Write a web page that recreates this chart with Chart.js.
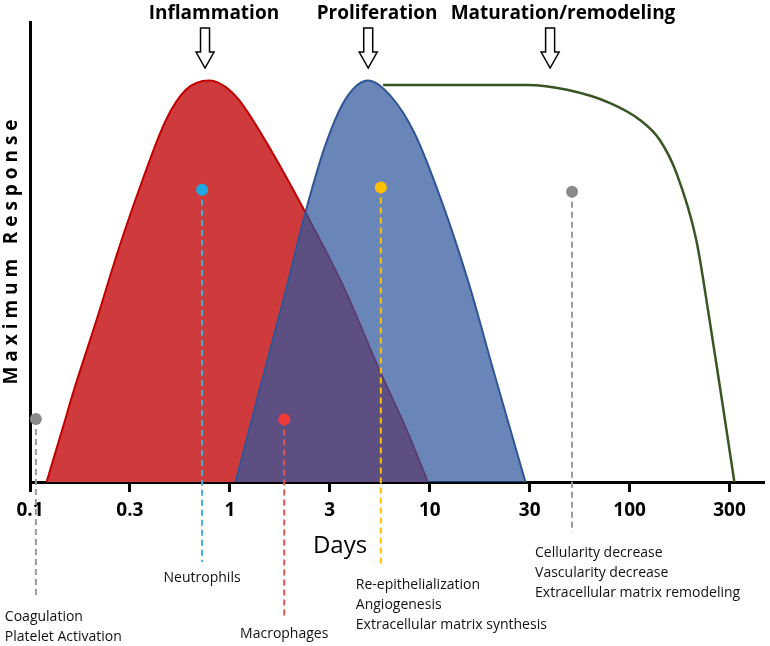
<!DOCTYPE html>
<html>
<head>
<meta charset="utf-8">
<script src="https://cdn.jsdelivr.net/npm/chart.js@4.4.0/dist/chart.umd.min.js"></script>
<style>
  body { margin: 0; background: #fff; }
  canvas { display: block; }
</style>
</head>
<body>
<canvas id="woundChart" width="770" height="646"></canvas>
<script>
// x axis ticks (half decades)
const tickValues = [0.1, 0.316, 1, 3.16, 10, 31.6, 100, 316];
const tickLabels = ["0.1", "0.3", "1", "3", "10", "30", "100", "300"];

// inflammation curve
const redDays = [0.121, 0.1465, 0.164, 0.215, 0.28, 0.366, 0.479, 0.602, 0.787, 1.067, 1.45, 2.38, 3.77, 5.51, 7.78, 9.77];
const redResp = [0, 0.138, 0.221, 0.403, 0.586, 0.753, 0.902, 0.977, 1.0, 0.962, 0.864, 0.673, 0.478, 0.287, 0.122, 0];

// proliferation curve
const blueDays = [1.067, 1.45, 1.89, 2.38, 2.99, 3.77, 4.91, 6.41, 8.39, 11.4, 15.5, 21.0, 30.1];
const blueResp = [0, 0.254, 0.47, 0.669, 0.836, 0.952, 1.0, 0.96, 0.869, 0.703, 0.503, 0.271, 0];

// maturation / remodeling curve
const greenDays = [5.84, 30.7, 48.6, 79.8, 112.5, 141.5, 171.3, 215.4, 251, 292.6, 334];
const greenResp = [0.989, 0.989, 0.977, 0.944, 0.902, 0.852, 0.77, 0.603, 0.404, 0.189, 0];

// phases at the top
const phaseNames = ["Inflammation", "Proliferation", "Maturation/remodeling"];
const phaseArrowDays = [0.751, 4.92, 40.0];
const phaseLabelDays = [0.832, 5.45, 46.4];

// events (dot + dashed line + text)
const eventDays = [0.107, 0.726, 1.87, 5.69, 51.5];
const eventLevels = [0.157, 0.728, 0.156, 0.734, 0.723];
const eventLabels = [
  ["Coagulation", "Platelet Activation"],
  ["Neutrophils"],
  ["Macrophages"],
  ["Re-epithelialization", "Angiogenesis", "Extracellular matrix synthesis"],
  ["Cellularity decrease", "Vascularity decrease", "Extracellular matrix remodeling"]
];
const eventDotColors = ["#8a8a8a", "#1ea7e1", "#f03a3a", "#ffc000", "#8a8a8a"];
const eventLineColors = ["#9a9a9a", "#3fb0d6", "#e05555", "#ffc000", "#9a9a9a"];

// text placement below the axis (pixels)
const eventTextLayout = [
  { lineEnd: 598, dx: -31, y: 617, align: "left" },
  { lineEnd: 562, dx: 0, y: 578, align: "center" },
  { lineEnd: 616, dx: 0, y: 634, align: "center" },
  { lineEnd: 567, dx: -25, y: 585, align: "left" },
  { lineEnd: 532, dx: -37, y: 553, align: "left" }
];

const pts = (xs, ys) => xs.map((x, i) => ({ x: x, y: ys[i] }));

Chart.defaults.font.family = "'Open Sans', sans-serif";
Chart.defaults.color = "#000";

const decorations = {
  id: "decorations",
  beforeDatasetDraw(chart, args) {
    if (args.index !== 0) return;
    const ctx = chart.ctx;
    const x = chart.scales.x, y = chart.scales.y;
    ctx.save();
    ctx.lineWidth = 2;
    ctx.setLineDash([6, 4]);
    eventDays.forEach((d, i) => {
      const px = x.getPixelForValue(d);
      ctx.strokeStyle = eventLineColors[i];
      ctx.beginPath();
      ctx.moveTo(px, y.getPixelForValue(eventLevels[i]));
      ctx.lineTo(px, eventTextLayout[i].lineEnd);
      ctx.stroke();
    });
    ctx.restore();
  },
  afterDraw(chart) {
    const ctx = chart.ctx;
    const x = chart.scales.x;
    ctx.save();

    // event labels
    ctx.fillStyle = "#111";
    ctx.font = "14px 'Open Sans'";
    ctx.textBaseline = "middle";
    eventLabels.forEach((lines, i) => {
      const l = eventTextLayout[i];
      const px = x.getPixelForValue(eventDays[i]) + l.dx;
      ctx.textAlign = l.align;
      lines.forEach((t, j) => ctx.fillText(t, px, l.y + j * 20));
    });

    // phase titles and hollow arrows
    ctx.fillStyle = "#000";
    ctx.font = "bold 19px 'Open Sans'";
    ctx.textAlign = "center";
    ctx.textBaseline = "alphabetic";
    phaseNames.forEach((name, i) => {
      ctx.fillText(name, x.getPixelForValue(phaseLabelDays[i]), 19);
      const ax = x.getPixelForValue(phaseArrowDays[i]);
      ctx.beginPath();
      ctx.moveTo(ax - 4.5, 28);
      ctx.lineTo(ax + 4.5, 28);
      ctx.lineTo(ax + 4.5, 52);
      ctx.lineTo(ax + 9, 52);
      ctx.lineTo(ax, 68);
      ctx.lineTo(ax - 9, 52);
      ctx.lineTo(ax - 4.5, 52);
      ctx.closePath();
      ctx.fillStyle = "#fff";
      ctx.fill();
      ctx.lineWidth = 1.5;
      ctx.strokeStyle = "#000";
      ctx.stroke();
      ctx.fillStyle = "#000";
    });

    // axis titles
    ctx.font = "24px 'Open Sans'";
    ctx.textBaseline = "middle";
    ctx.fillText("Days", 340, 546);

    ctx.translate(17, 252);
    ctx.rotate(-Math.PI / 2);
    ctx.font = "bold 19px 'Open Sans'";
    ctx.textAlign = "left";
    ctx.textBaseline = "alphabetic";
    const title = "Maximum Response";
    const span = 265;
    const w0 = ctx.measureText(title).width;
    ctx.letterSpacing = ((span - w0) / (title.length - 1)) + "px";
    ctx.fillText(title, -span / 2, 0);
    ctx.restore();
  }
};

new Chart(document.getElementById("woundChart"), {
  type: "line",
  data: {
    datasets: [
      {
        label: "Events",
        data: pts(eventDays, eventLevels),
        showLine: false,
        pointRadius: 6,
        pointBorderWidth: 0,
        pointBackgroundColor: eventDotColors,
        order: 0
      },
      {
        label: "Maturation/remodeling",
        data: pts(greenDays, greenResp),
        borderColor: "#375623",
        borderWidth: 2.5,
        fill: false,
        pointRadius: 0,
        cubicInterpolationMode: "monotone",
        order: 1
      },
      {
        label: "Proliferation",
        data: pts(blueDays, blueResp),
        borderColor: "#2f5597",
        backgroundColor: "rgba(48, 88, 156, 0.72)",
        borderWidth: 2,
        fill: "origin",
        pointRadius: 0,
        cubicInterpolationMode: "monotone",
        order: 2
      },
      {
        label: "Inflammation",
        data: pts(redDays, redResp),
        borderColor: "#c00000",
        backgroundColor: "#cf3a3c",
        borderWidth: 2,
        fill: "origin",
        pointRadius: 0,
        cubicInterpolationMode: "monotone",
        order: 3
      }
    ]
  },
  options: {
    responsive: false,
    animation: false,
    layout: { padding: { top: 22, right: 2, left: 0, bottom: 0 } },
    plugins: {
      legend: false,
      tooltip: { enabled: false }
    },
    scales: {
      x: {
        type: "logarithmic",
        min: 0.1,
        max: 470,
        afterBuildTicks: (scale) => {
          scale.ticks = tickValues.map((v) => ({ value: v }));
        },
        afterFit: (scale) => {
          scale.height = 164;
        },
        grid: {
          drawOnChartArea: false,
          tickLength: 10,
          tickWidth: 3,
          tickColor: "#000"
        },
        border: { color: "#000", width: 3 },
        ticks: {
          autoSkip: false,
          maxRotation: 0,
          padding: 7,
          color: "#000",
          font: { size: 19, weight: "bold" },
          callback: (value, index) => tickLabels[index]
        }
      },
      y: {
        min: 0,
        max: 1.146,
        afterFit: (scale) => {
          scale.width = 30;
        },
        grid: { display: false },
        border: { color: "#000", width: 3 },
        ticks: { display: false }
      }
    }
  },
  plugins: [decorations]
});
</script>
</body>
</html>
